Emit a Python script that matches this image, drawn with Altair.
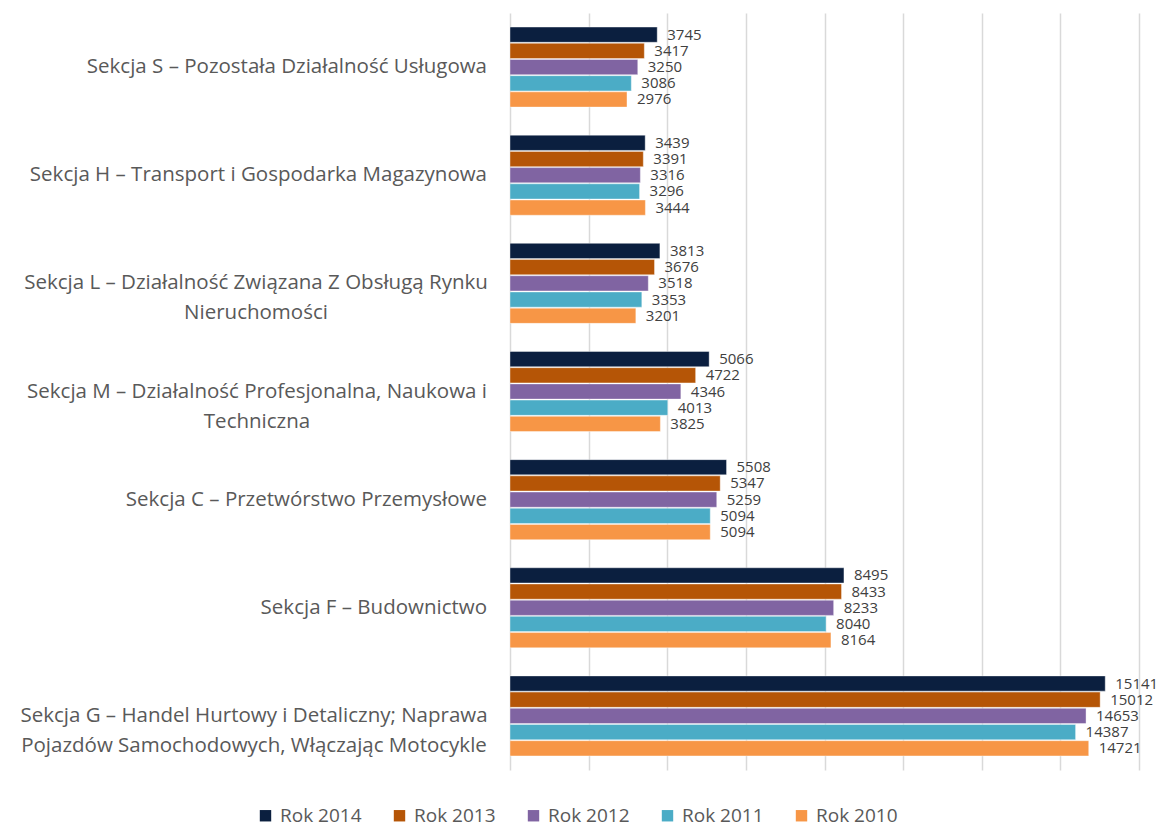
import altair as alt
import pandas as pd

codes = ["S", "H", "L", "M", "C", "F", "G"]
labels = [
    "Sekcja S – Pozostała Działalność Usługowa",
    "Sekcja H – Transport i Gospodarka Magazynowa",
    "Sekcja L – Działalność Związana Z Obsługą Rynku\nNieruchomości",
    "Sekcja M – Działalność Profesjonalna, Naukowa i\nTechniczna",
    "Sekcja C – Przetwórstwo Przemysłowe",
    "Sekcja F – Budownictwo",
    "Sekcja G – Handel Hurtowy i Detaliczny; Naprawa\nPojazdów Samochodowych, Włączając Motocykle",
]
series = ["Rok 2014", "Rok 2013", "Rok 2012", "Rok 2011", "Rok 2010"]
rok_2014 = [3745, 3439, 3813, 5066, 5508, 8495, 15141]
rok_2013 = [3417, 3391, 3676, 4722, 5347, 8433, 15012]
rok_2012 = [3250, 3316, 3518, 4346, 5259, 8233, 14653]
rok_2011 = [3086, 3296, 3353, 4013, 5094, 8040, 14387]
rok_2010 = [2976, 3444, 3201, 3825, 5094, 8164, 14721]
colors = ["#0b1f3f", "#b55506", "#8064a2", "#4bacc6", "#f79646"]

FONT = "Open Sans"
LAB_SIZE = 20.5

rows = []
for s, vals in zip(series, [rok_2014, rok_2013, rok_2012, rok_2011, rok_2010]):
    for c, v in zip(codes, vals):
        rows.append({"code": c, "series": s, "value": v})
df = pd.DataFrame(rows)
lab_df = pd.DataFrame({"code": codes, "label": labels})
lab_df["multi"] = lab_df["label"].str.contains("\n")

y_enc = alt.Y("code:N", sort=codes, axis=None,
              scale=alt.Scale(paddingInner=0.26, paddingOuter=0.13))
yoff = alt.YOffset("series:N", sort=series, scale=alt.Scale(paddingInner=0.06))
x_enc = alt.X("value:Q", title=None,
              scale=alt.Scale(domain=[0, 16000], nice=False),
              axis=alt.Axis(values=list(range(0, 16001, 2000)), grid=True, labels=False,
                            ticks=False, domain=False, gridColor="#d9d9d9", gridWidth=1.5))

bars = alt.Chart(df).mark_bar(stroke="white", strokeWidth=0.4).encode(
    x=x_enc, y=y_enc, yOffset=yoff,
    color=alt.Color("series:N", sort=series,
                    scale=alt.Scale(domain=series, range=colors),
                    legend=alt.Legend(title=None, orient="none", direction="horizontal",
                                      legendX=-254, legendY=793,
                                      symbolType="square", symbolSize=130, symbolStrokeWidth=0,
                                      labelFont=FONT, labelFontSize=19, labelColor="#595959",
                                      labelOffset=5, columnPadding=28)),
)

values_txt = alt.Chart(df).mark_text(align="left", baseline="middle", dx=10,
                                     font=FONT, fontSize=15, color="#404040").encode(
    x=alt.X("value:Q"), y=y_enc, yOffset=yoff, text=alt.Text("value:Q", format="d"),
)

single = alt.Chart(lab_df).transform_filter("!datum.multi").mark_text(
    align="right", baseline="middle", dx=-23, font=FONT, fontSize=LAB_SIZE, color="#595959"
).encode(x=alt.value(0), y=y_enc, text="label:N")

center_dx = {"L": -254, "M": -253, "G": -256}
multi_layers = []
for c, dxv in center_dx.items():
    multi_layers.append(
        alt.Chart(lab_df).transform_filter(alt.datum.code == c).mark_text(
            align="center", baseline="middle", dx=dxv, lineBreak="\n", lineHeight=30,
            font=FONT, fontSize=LAB_SIZE, color="#595959"
        ).encode(x=alt.value(0), y=y_enc, text="label:N")
    )

chart = alt.layer(bars, values_txt, single, *multi_layers).properties(
    width=629, height=757,
    padding={"left": 12, "top": 5, "right": 0, "bottom": 4},
).configure_view(stroke=None)

chart.save("out.html", embed_options={"renderer": "svg", "actions": False})
